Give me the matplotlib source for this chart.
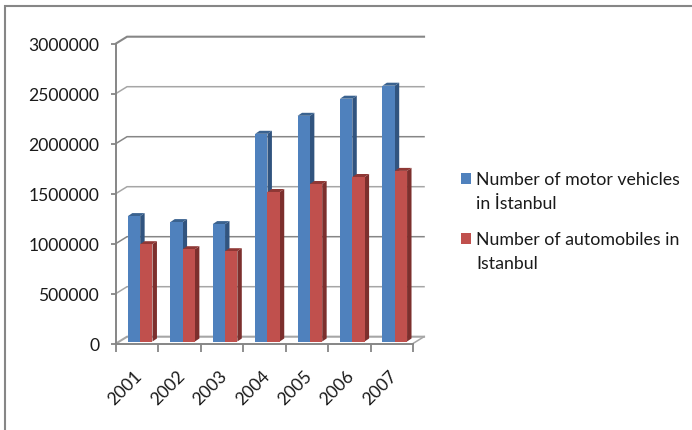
import matplotlib
matplotlib.use("Agg")
import matplotlib.pyplot as plt
from matplotlib.lines import Line2D
from matplotlib.patches import Rectangle
from matplotlib.transforms import ScaledTranslation

plt.rcParams['font.family'] = ['Lato', 'DejaVu Sans']

# Registered vehicles per year
years = ['2001', '2002', '2003', '2004', '2005', '2006', '2007']
motor_vehicles = [1254000, 1194000, 1174000, 2077000, 2257000, 2428000, 2558000]
automobiles = [973000, 923000, 903000, 1495000, 1575000, 1645000, 1706000]
y_ticks = [0, 500000, 1000000, 1500000, 2000000, 2500000, 3000000]
legend_labels = ['Number of motor vehicles\nin İstanbul', 'Number of automobiles in\nIstanbul']

W, H = 692, 431
GRAY = '#868686'
TEXT = '#1a1a1a'

fig = plt.figure(figsize=(W / 100, H / 100), dpi=100, facecolor='white')
ax = fig.add_axes([116 / W, 1 - 344.5 / H, 297 / W, 300 / H])
ax.set_xlim(0, 7)
ax.set_ylim(0, 3000000)
ax.patch.set_visible(False)

# Oblique offset of the back wall and of the bars themselves
wall_dx, wall_dy = 0.26, 68000
bar_dx, bar_dy = 0.105, 30000
floor_dx, floor_base = 0.07, 20000
bar_width = 0.29

# Back wall gridlines with their slanted connectors to the value axis
for v in y_ticks:
    lw = 1.5 if v in (3000000, 0) else 1.1
    ax.plot([0, wall_dx, 7 + wall_dx], [v, v + wall_dy, v + wall_dy],
            color=GRAY if v in (3000000, 2000000, 1000000) else '#a6a6a6',
            lw=lw, clip_on=False, zorder=1, solid_joinstyle='miter')
ax.plot([7, 7 + wall_dx], [0, wall_dy], color='#a6a6a6', lw=1.1, clip_on=False, zorder=1)


def draw_bars(values, offset, front, side, top, z):
    for i, v in enumerate(values):
        x0 = i + 0.5 + offset + floor_dx
        x1 = x0 + bar_width
        y0, y1 = floor_base, floor_base + v
        ax.fill([x1, x1 + bar_dx, x1 + bar_dx, x1],
                [y0, y0 + bar_dy, y1 + bar_dy, y1], color=side, lw=0,
                clip_on=False, zorder=z)
        ax.fill([x0, x0 + bar_dx, x1 + bar_dx, x1],
                [y1, y1 + bar_dy, y1 + bar_dy, y1], color=top, lw=0,
                clip_on=False, zorder=z)
        ax.bar(x0, v, bar_width, bottom=y0, align='edge', color=front, lw=0,
               clip_on=False, zorder=z + 0.5)


draw_bars(motor_vehicles, -bar_width, '#4F81BD', '#31547F', '#3A628F', 2)
draw_bars(automobiles, 0, '#C0504D', '#7C2F2D', '#8F3835', 3)

# Axes
for name in ('top', 'right'):
    ax.spines[name].set_visible(False)
for name in ('left', 'bottom'):
    ax.spines[name].set_color(GRAY)
    ax.spines[name].set_linewidth(1.4)
    ax.spines[name].set_zorder(4)

ax.set_yticks(y_ticks)
ax.set_yticklabels([str(v) for v in y_ticks])
ax.tick_params(axis='y', length=3.6, width=1.3, color=GRAY, pad=8.5,
               labelsize=12.6, labelcolor=TEXT)
ax.set_xticks(range(8))
ax.set_xticklabels([])
ax.tick_params(axis='x', which='major', length=5.8, width=1.3, color=GRAY)
ax.set_xticks([i + 0.5 for i in range(7)], minor=True)
ax.set_xticklabels(years, minor=True, rotation=45, ha='center', va='center',
                   rotation_mode='anchor', fontsize=12.6, color=TEXT)
ax.tick_params(axis='x', which='minor', length=0, pad=24)
label_shift = ScaledTranslation(-12 / 100, -10 / 100, fig.dpi_scale_trans)
for lab in ax.get_xticklabels(minor=True):
    lab.set_transform(lab.get_transform() + label_shift)

# Legend: colour keys beside two-line labels
legend_colors = ['#4F81BD', '#C0504D']
legend_tops = [174, 234]
for label, color, top in zip(legend_labels, legend_colors, legend_tops):
    fig.add_artist(Rectangle((461 / W, 1 - (top + 10.5) / H), 10 / W, 10.5 / H,
                             transform=fig.transFigure, color=color, lw=0))
    fig.text(476 / W, 1 - (top + 6.5) / H, label.split('\n')[0], fontsize=12.75,
             color=TEXT, va='center', ha='left')
    fig.text(476 / W, 1 - (top + 30.5) / H, label.split('\n')[1], fontsize=12.75,
             color=TEXT, va='center', ha='left')

# Partial chart frame along the top and left edges
fig.add_artist(Line2D([5 / W, 5 / W, 1], [0, 1 - 7 / H, 1 - 7 / H],
                      transform=fig.transFigure, color=GRAY, lw=1.5,
                      solid_joinstyle='miter'))

fig.savefig('out.png', dpi=100, facecolor='white')
